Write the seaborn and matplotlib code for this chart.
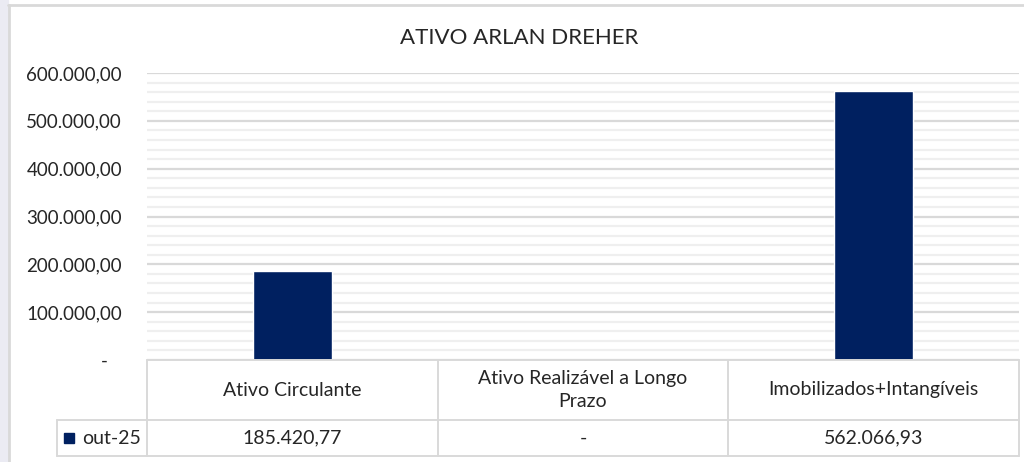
import textwrap
import matplotlib
matplotlib.use("Agg")
import matplotlib.pyplot as plt
import seaborn as sns
import pandas as pd
from matplotlib.patches import Rectangle
from matplotlib.ticker import FuncFormatter, MultipleLocator

# dados
categorias = ["Ativo Circulante", "Ativo Realizável a Longo Prazo", "Imobilizados+Intangíveis"]
valores = [185420.77, 0.0, 562066.93]
serie = "out-25"
titulo = "ATIVO ARLAN DREHER"
azul = "#002060"
grade = "#d9d9d9"


def fmt_br(v, pos=None):
    if v == 0:
        return "-   "
    s = f"{v:,.2f}"
    return s.replace(",", "X").replace(".", ",").replace("X", ".")


df = pd.DataFrame({"categoria": categorias, "valor": valores})

sns.set_theme(style="white")
plt.rcParams["font.family"] = ["Lato", "DejaVu Sans"]

fig = plt.figure(figsize=(10.24, 4.62), dpi=100)
ax = fig.add_axes([147 / 1024, 1 - 360 / 462, 872 / 1024, 287 / 462])

sns.barplot(data=df, x="categoria", y="valor", color=azul, width=0.27,
            saturation=1, ax=ax, zorder=3)

ax.set_xlim(-0.5, 2.5)
ax.set_ylim(0, 600000)
ax.yaxis.set_major_locator(MultipleLocator(100000))
ax.yaxis.set_minor_locator(MultipleLocator(20000))
ax.yaxis.set_major_formatter(FuncFormatter(fmt_br))
ax.grid(axis="y", which="major", color=grade, lw=1.6, zorder=0)
ax.grid(axis="y", which="minor", color="#efefef", lw=1.6, zorder=0)
ax.tick_params(axis="y", which="both", length=0, pad=18, labelsize=13.5, labelcolor="#262626")
ax.set_xticks([])
ax.set_xlabel("")
ax.set_ylabel("")
for s in ax.spines.values():
    s.set_visible(False)

fig.text(519 / 1024, 1 - 38 / 462, titulo, ha="center", va="center",
         fontsize=16, color="#262626")

# tabela de dados abaixo do gráfico
lk = dict(color=grade, lw=1.4, clip_on=False, zorder=5)
tr = ax.get_xaxis_transform()
r1, r2 = -60 / 287, -96 / 287
leg_x = -0.5 + 3 * (57 - 147) / 872
ax.plot([-0.5, 2.5], [0, 0], transform=tr, **lk)
ax.plot([leg_x, 2.5], [r1, r1], transform=tr, **lk)
ax.plot([leg_x, 2.5], [r2, r2], transform=tr, **lk)
ax.plot([leg_x, leg_x], [r1, r2], transform=tr, **lk)
for xb in [-0.5, 0.5, 1.5, 2.5]:
    ax.plot([xb, xb], [0, r2], transform=tr, **lk)

for i, (c, v) in enumerate(zip(categorias, valores)):
    ax.text(i, r1 / 2, textwrap.fill(c, 25), transform=tr, ha="center", va="center",
            fontsize=14, color="#262626", linespacing=1.4)
    txt = "-" if v == 0 else fmt_br(v)
    ax.text(i, (r1 + r2) / 2, txt, transform=tr, ha="center", va="center",
            fontsize=14, color="#262626")

ax.add_patch(Rectangle((leg_x + 0.025, (r1 + r2) / 2 - 0.019), 0.034, 0.038,
                       transform=tr, color=azul, clip_on=False, zorder=6))
ax.text(leg_x + 0.085, (r1 + r2) / 2, serie, transform=tr, ha="left", va="center",
        fontsize=14, color="#262626")

# moldura do gráfico
fig.add_artist(Rectangle((0, 0), 8 / 1024, 1, transform=fig.transFigure,
                         color="#ebebf3", zorder=0))
fig.add_artist(plt.Line2D([8 / 1024, 1], [1 - 5 / 462, 1 - 5 / 462],
                          transform=fig.transFigure, color=grade, lw=2))
fig.add_artist(plt.Line2D([9 / 1024, 9 / 1024], [0, 1 - 5 / 462],
                          transform=fig.transFigure, color=grade, lw=2))

fig.savefig("out.png", dpi=100)
